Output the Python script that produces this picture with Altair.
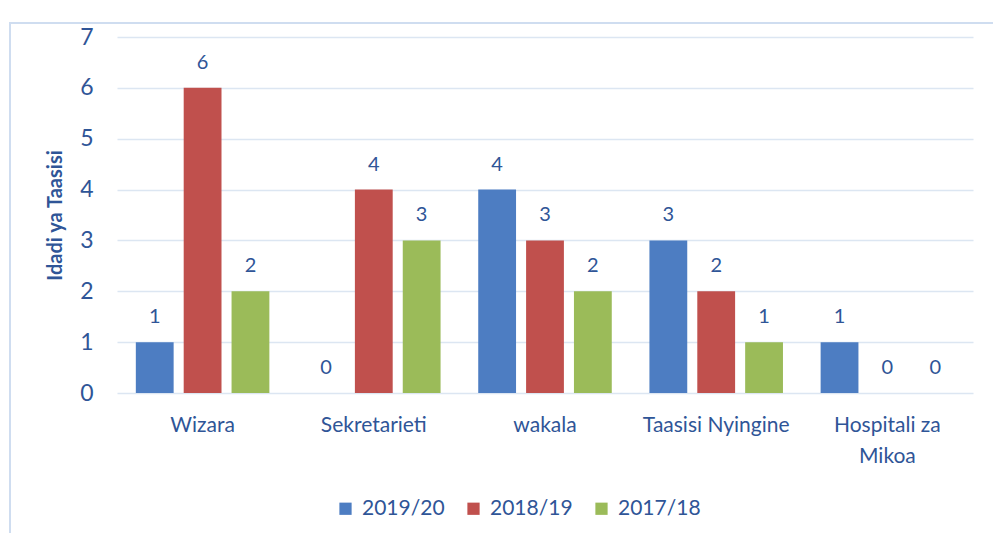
import altair as alt
import pandas as pd

categories = ["Wizara", "Sekretarieti", "wakala", "Taasisi Nyingine", "Hospitali za Mikoa"]
series = ["2019/20", "2018/19", "2017/18"]
v_2019_20 = [1, 0, 4, 3, 1]
v_2018_19 = [6, 4, 3, 2, 0]
v_2017_18 = [2, 3, 2, 1, 0]
colors = ["#4D7DC2", "#C0504D", "#9BBB59"]

rows = []
for s, vals in zip(series, [v_2019_20, v_2018_19, v_2017_18]):
    for c, v in zip(categories, vals):
        rows.append({"Kundi": c, "Mwaka": s, "Idadi": v})
df = pd.DataFrame(rows)

FONT = "Lato"
TXT = "#2F5597"

x = alt.X("Kundi:N", sort=categories,
          scale=alt.Scale(paddingInner=0.22, paddingOuter=0.11),
          axis=alt.Axis(title=None, labelAngle=0, labelFontSize=21, labelColor=TXT,
                        labelFont=FONT, domain=False, ticks=False, grid=False,
                        labelPadding=21, labelLineHeight=31,
                        labelExpr="datum.label == 'Hospitali za Mikoa' ? ['Hospitali za', 'Mikoa'] : datum.label"))
xo = alt.XOffset("Mwaka:N", sort=series, scale=alt.Scale(paddingInner=0.21, paddingOuter=0))
y = alt.Y("Idadi:Q", scale=alt.Scale(domain=[0, 7]),
          axis=alt.Axis(title="Idadi ya Taasisi", values=list(range(8)), labelFontSize=23,
                        labelColor=TXT, labelFont=FONT, domain=False, ticks=False,
                        labelPadding=24, gridColor="#DCE6F2", gridWidth=1.5,
                        titleFont=FONT, titleFontSize=20, titleFontWeight="bold",
                        titleColor=TXT, titlePadding=14))

color = alt.Color("Mwaka:N", sort=series, scale=alt.Scale(domain=series, range=colors),
                  legend=alt.Legend(title=None, orient="none", legendX=218, legendY=461,
                                    direction="horizontal", symbolType="square",
                                    symbolSize=150, symbolStrokeWidth=0,
                                    labelFontSize=21, labelColor=TXT, labelFont=FONT,
                                    columnPadding=18, labelOffset=6))

bars = alt.Chart(df).mark_bar().encode(x=x, xOffset=xo, y=y, color=color)
labels = alt.Chart(df).mark_text(baseline="bottom", dy=-15, fontSize=20, font=FONT,
                                 color=TXT).encode(x=x, xOffset=xo, y=y, text="Idadi:Q")

frame = alt.Chart(pd.DataFrame({"a": [0]})).mark_rect(
    fill=None, stroke="#CFDDF0", strokeWidth=2).encode(
    x=alt.value(-107), x2=alt.value(1100), y=alt.value(-14), y2=alt.value(700))

chart = alt.layer(frame, bars, labels).properties(
    width=856, height=356,
    autosize=alt.AutoSizeParams(type="none"),
    padding={"left": 109, "top": 29, "right": 20, "bottom": 140},
).configure(background="white").configure_view(strokeWidth=0)

chart.save("out.html", embed_options={"renderer": "svg", "actions": False})
